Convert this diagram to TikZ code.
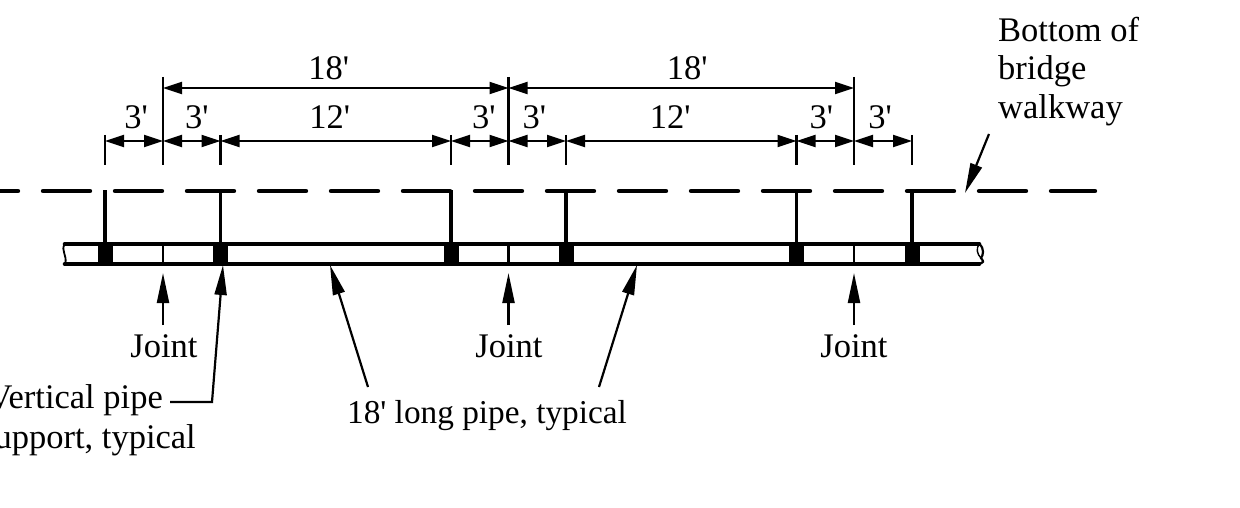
\documentclass[tikz,border=0pt]{standalone}
\usepackage{fontspec}
\newfontfamily\labelfont{Liberation Serif}
\usetikzlibrary{arrows.meta}

\tikzset{
  dimline/.style={line width=2.2pt, {Triangle[length=19pt,width=12pt]}-{Triangle[length=19pt,width=12pt]}},
  extline/.style={line width=2.2pt},
  leaderline/.style={line width=2.2pt, -{Triangle[length=30pt,width=12pt]}},
  walkline/.style={line width=4.4pt, line cap=round, dash pattern=on 47pt off 25pt, dash phase=29pt},
  hangerline/.style={line width=3.6pt},
  pipeline/.style={line width=4.6pt, line cap=round},
  jointline/.style={line width=2.8pt},
  blockbox/.style={fill=black, draw=none, minimum width=15pt, minimum height=24pt, inner sep=0pt, outer sep=0pt},
  dimtext/.style={anchor=base, inner sep=0pt, yshift=12pt},
  plaintext/.style={anchor=base, inner sep=0pt},
  every node/.append style={font=\labelfont\fontsize{34.5}{41}\selectfont}
}

\begin{document}
\begin{tikzpicture}[x=1pt, y=-1pt]
  \useasboundingbox (0,0) rectangle (1240,508);

  % walkway
  \coordinate (walk-l) at (0,191);
  \coordinate (walk-r) at (1095,191);
  \draw[walkline] (walk-l) -- (walk-r);

  % pipe
  \coordinate (pipe-tl) at (65,244);
  \coordinate (pipe-tr) at (979,244);
  \coordinate (pipe-bl) at (65,264);
  \coordinate (pipe-br) at (979,264);
  \draw[pipeline] (pipe-tl) -- (pipe-tr);
  \draw[pipeline] (pipe-bl) -- (pipe-br);
  \draw[line width=1.8pt] (pipe-tl) .. controls (60,250) and (68,256) .. (pipe-bl);
  \draw[line width=2.2pt] (pipe-tr) .. controls (985,248) and (983,256) .. (981,258) .. controls (984,262) .. (pipe-br);
  \draw[line width=1.4pt] (pipe-tr) .. controls (976,249) and (977,254) .. (981,258);

  % supports
  \foreach \name/\x in {a/105,b/220.5,c/451,d/566,e/796.5,f/912} {
    \node[blockbox] (block-\name) at (\x,254) {};
    \coordinate (top-\name) at (\x,190);
    \draw[hangerline] (top-\name) -- (block-\name);
    \coordinate (ext-\name-t) at (\x,135);
    \coordinate (ext-\name-b) at (\x,165);
    \draw[extline] (ext-\name-t) -- (ext-\name-b);
    \coordinate (small-\name) at (\x,141);
  }

  % joints
  \foreach \name/\x in {p/163,q/508.5,r/854} {
    \coordinate (joint-\name-t) at (\x,244);
    \coordinate (joint-\name-b) at (\x,264);
    \draw[jointline] (joint-\name-t) -- (joint-\name-b);
    \coordinate (ext-\name-t) at (\x,77);
    \coordinate (ext-\name-b) at (\x,165);
    \draw[extline] (ext-\name-t) -- (ext-\name-b);
    \coordinate (big-\name) at (\x,88);
    \coordinate (small-\name) at (\x,141);
    \coordinate (tip-\name) at (\x,273);
    \coordinate (tail-\name) at (\x,325);
    \draw[leaderline] (tail-\name) -- (tip-\name);
  }

  % dimensions
  \path[dimline]
    (big-p) edge node [dimtext, xshift=-7pt, yshift=-4pt] {18'} (big-q)
    (big-q) edge node [dimtext, xshift=6pt, yshift=-4pt] {18'} (big-r)
    ;
  \path[dimline]
    (small-a) edge node [dimtext, xshift=2pt] {3'} (small-p)
    (small-p) edge node [dimtext, xshift=5pt] {3'} (small-b)
    (small-b) edge node [dimtext, xshift=-6pt] {12'} (small-c)
    (small-c) edge node [dimtext, xshift=4pt] {3'} (small-q)
    (small-q) edge node [dimtext, xshift=-3pt] {3'} (small-d)
    (small-d) edge node [dimtext, xshift=-11pt] {12'} (small-e)
    (small-e) edge node [dimtext, xshift=-4pt] {3'} (small-r)
    (small-r) edge node [dimtext, xshift=-3pt] {3'} (small-f)
    ;

  % labels
  \node[plaintext] (joint1) at (164,357) {Joint};
  \node[plaintext] (joint2) at (509,357) {Joint};
  \node[plaintext] (joint3) at (854,357) {Joint};
  \node[plaintext, anchor=base east] (vert) at (163,408) {Vertical pipe};
  \node[plaintext, anchor=base east] (supp) at (196,448) {support, typical};
  \node[plaintext, font=\labelfont\fontsize{33.3}{41}\selectfont] (long) at (487,423) {18' long pipe, typical};
  \node[plaintext, anchor=base west] (bot1) at (998,42) {Bottom of};
  \node[plaintext, anchor=base west] (bot2) at (998,80) {bridge};
  \node[plaintext, anchor=base west] (bot3) at (998,119) {walkway};

  % leaders
  \coordinate (vert-end) at (170,402);
  \coordinate (vert-bend) at (212,402);
  \coordinate (vert-tip) at (223,265);
  \draw[leaderline] (vert-end) -- (vert-bend) -- (vert-tip);
  \coordinate (long-la) at (368,387);
  \coordinate (long-lb) at (330,265);
  \coordinate (long-ra) at (599,387);
  \coordinate (long-rb) at (637,265);
  \draw[leaderline] (long-la) -- (long-lb);
  \draw[leaderline] (long-ra) -- (long-rb);
  \coordinate (walk-a) at (989,134);
  \coordinate (walk-b) at (965,193);
  \draw[leaderline] (walk-a) -- (walk-b);
\end{tikzpicture}
\end{document}
